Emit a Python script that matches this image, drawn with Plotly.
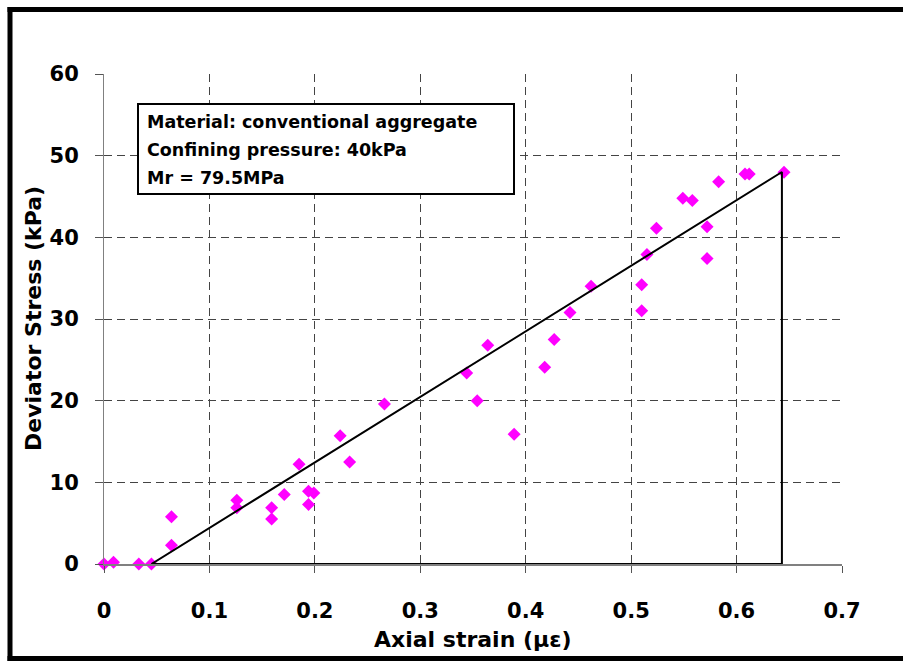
import plotly.graph_objects as go

# Data
strain = [0, 0.009, 0.033, 0.045, 0.064, 0.064, 0.126, 0.126, 0.159, 0.159,
          0.171, 0.185, 0.194, 0.199, 0.194, 0.224, 0.233, 0.266, 0.344, 0.354,
          0.364, 0.389, 0.418, 0.427, 0.442, 0.462, 0.510, 0.510, 0.515, 0.524,
          0.549, 0.558, 0.572, 0.572, 0.583, 0.608, 0.612, 0.645]
stress = [0, 0.2, 0, 0, 5.8, 2.3, 7.8, 6.9, 6.9, 5.5,
          8.5, 12.2, 8.9, 8.7, 7.3, 15.7, 12.5, 19.6, 23.4, 20.0,
          26.8, 15.9, 24.1, 27.5, 30.8, 34.0, 31.0, 34.2, 37.9, 41.1,
          44.8, 44.5, 41.3, 37.4, 46.8, 47.75, 47.75, 47.96]

# Modulus triangle (fit line, vertical drop, base)
tri_x = [0.045, 0.643, 0.643, 0.045]
tri_y = [0, 48.0, 0, 0]

info_lines = ["Material: conventional aggregate",
              "Confining pressure: 40kPa",
              "Mr = 79.5MPa"]

x_ticks = [0, 0.1, 0.2, 0.3, 0.4, 0.5, 0.6, 0.7]
x_ticklabels = ["0", "0.1", "0.2", "0.3", "0.4", "0.5", "0.6", "0.7"]
y_ticks = [0, 10, 20, 30, 40, 50, 60]

FONT = "DejaVu Sans"

fig = go.Figure()
fig.add_trace(go.Scatter(
    x=strain, y=stress, mode="markers",
    marker=dict(symbol="diamond", size=10, color="#FF00FF", line=dict(width=0)),
    cliponaxis=False, showlegend=False))
fig.add_trace(go.Scatter(
    x=tri_x, y=tri_y, mode="lines",
    line=dict(color="black", width=2),
    cliponaxis=False, showlegend=False))

L, R, T, B = 104, 61, 74, 98
W, H = 903, 662
pw, ph = W - L - R, H - T - B

def px(x):
    return (x - L) / pw

def py(y):
    return (H - B - y) / ph

fig.update_layout(
    width=W, height=H,
    margin=dict(l=L, r=R, t=T, b=B, autoexpand=False),
    paper_bgcolor="white", plot_bgcolor="white",
    font=dict(family=FONT, color="black"),
    xaxis=dict(range=[0, 0.7], tickvals=x_ticks, ticktext=x_ticklabels,
               showgrid=True, gridcolor="#444444", gridwidth=1, griddash="8px,5px",
               showline=True, linecolor="#808080", linewidth=2,
               ticks="outside", ticklen=7, tickcolor="#555555", tickwidth=1,
               tickfont=dict(family=FONT, size=21, weight="bold", color="black"),
               ticklabelstandoff=20, zeroline=False, fixedrange=True),
    yaxis=dict(range=[0, 60], tickvals=y_ticks,
               showgrid=True, gridcolor="#444444", gridwidth=1, griddash="8px,5px",
               showline=True, linecolor="#808080", linewidth=1,
               ticks="outside", ticklen=8, tickcolor="#555555", tickwidth=1,
               tickfont=dict(family=FONT, size=21, weight="bold", color="black"),
               ticklabelstandoff=12, zeroline=False, fixedrange=True),
)

frame = dict(color="black", width=5)
shapes = [
    # info box
    dict(type="rect", xref="paper", yref="paper",
         x0=px(138), x1=px(514), y0=py(194), y1=py(104),
         line=dict(color="black", width=2), fillcolor="white", layer="above"),
    # outer frame: left, top, bottom (right edge is cut off in the picture)
    dict(type="line", xref="paper", yref="paper",
         x0=px(10), x1=px(10), y0=py(661), y1=py(7), line=frame, layer="above"),
    dict(type="line", xref="paper", yref="paper",
         x0=px(7.5), x1=px(910), y0=py(9.5), y1=py(9.5), line=frame, layer="above"),
    dict(type="line", xref="paper", yref="paper",
         x0=px(7.5), x1=px(910), y0=py(658.5), y1=py(658.5), line=frame, layer="above"),
]
fig.update_layout(shapes=shapes)

annotations = []
for txt, yc in zip(info_lines, [122.5, 149.5, 177.5]):
    annotations.append(dict(text=txt, xref="paper", yref="paper",
                            x=px(145), y=py(yc), xanchor="left", yanchor="middle",
                            showarrow=False,
                            font=dict(family=FONT, size=17.5, weight="bold", color="black")))
annotations.append(dict(text="Axial strain (με)", xref="paper", yref="paper",
                        x=0.5, y=py(639), xanchor="center", yanchor="middle",
                        showarrow=False,
                        font=dict(family=FONT, size=22, weight="bold", color="black")))
annotations.append(dict(text="Deviator Stress (kPa)", xref="paper", yref="paper",
                        x=px(33), y=py(319), xanchor="center", yanchor="middle",
                        textangle=-90, showarrow=False,
                        font=dict(family=FONT, size=22, weight="bold", color="black")))
fig.update_layout(annotations=annotations)

fig.write_html(
    "out.html",
    config={"displayModeBar": False},
    post_script="document.body.style.margin='0';document.body.style.overflow='hidden';",
)
